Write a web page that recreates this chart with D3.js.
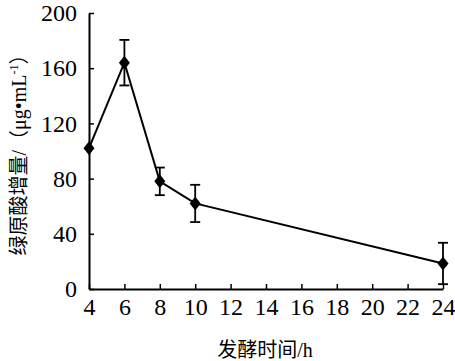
<!DOCTYPE html>
<html><head><meta charset="utf-8">
<script src="https://cdn.jsdelivr.net/npm/d3@7"></script>
<style>body{margin:0;background:#fff}</style>
</head><body><svg id="c" width="455" height="361"></svg>
<script>
const times = [4, 6, 8, 10, 24];
const values = [102, 164, 78, 62, 18.5];
const errors = [0, 16.5, 10, 13.5, 15];
const xTicks = [4, 6, 8, 10, 12, 14, 16, 18, 20, 22, 24];
const yTicks = [0, 40, 80, 120, 160, 200];
const xLabel = "发酵时间/h";
const SERIF = "Liberation Serif";
const CJK = "Liberation Serif, Noto Sans CJK SC";

const svg = d3.select("#c");
const x = d3.scaleLinear().domain([4, 24]).range([89, 443]);
const y = d3.scaleLinear().domain([0, 200]).range([289, 13]);

const ya = svg.append("g").attr("transform", "translate(89,0)")
  .call(d3.axisLeft(y).tickValues(yTicks).tickSizeInner(-5).tickSizeOuter(0).tickPadding(12));
const xa = svg.append("g").attr("transform", "translate(0,289)")
  .call(d3.axisBottom(x).tickValues(xTicks).tickSizeInner(-5).tickSizeOuter(0).tickPadding(9));
[ya, xa].forEach(g => {
  g.attr("font-family", SERIF).attr("font-size", 24);
  g.selectAll("path").attr("stroke", "#000").attr("stroke-width", 2);
  g.selectAll("line").attr("stroke", "#000").attr("stroke-width", 1.5);
  g.selectAll("text").attr("fill", "#000");
});

const line = d3.line().x((d, i) => x(times[i])).y(d => y(d));
svg.append("path").datum(values).attr("d", line).attr("fill", "none").attr("stroke", "#000").attr("stroke-width", 2);

const eb = svg.append("g").attr("stroke", "#000").attr("stroke-width", 1.8);
values.forEach((v, i) => {
  if (!errors[i]) return;
  const cx = x(times[i]);
  eb.append("line").attr("x1", cx).attr("x2", cx).attr("y1", y(v - errors[i])).attr("y2", y(v + errors[i]));
  [v - errors[i], v + errors[i]].forEach(e => eb.append("line").attr("x1", cx - 5).attr("x2", cx + 5).attr("y1", y(e)).attr("y2", y(e)));
});

svg.append("g").selectAll("path").data(values).join("path")
  .attr("transform", (d, i) => `translate(${x(times[i])},${y(d)})`)
  .attr("d", "M0,-7L5.5,0L0,7L-5.5,0Z").attr("fill", "#000");

svg.append("text").attr("x", 265).attr("y", 357).attr("text-anchor", "middle")
  .attr("font-size", 20).attr("font-family", CJK).attr("fill", "#000").text(xLabel);

const yl = svg.append("text").attr("transform", "translate(26,150) rotate(-90)").attr("text-anchor", "middle")
  .attr("font-size", 20).attr("font-family", CJK).attr("fill", "#000");
yl.append("tspan").text("绿原酸增量/（μg•mL");
yl.append("tspan").attr("font-size", 12).attr("dy", -8).text("-1");
yl.append("tspan").attr("dy", 8).text("）");
</script></body></html>
